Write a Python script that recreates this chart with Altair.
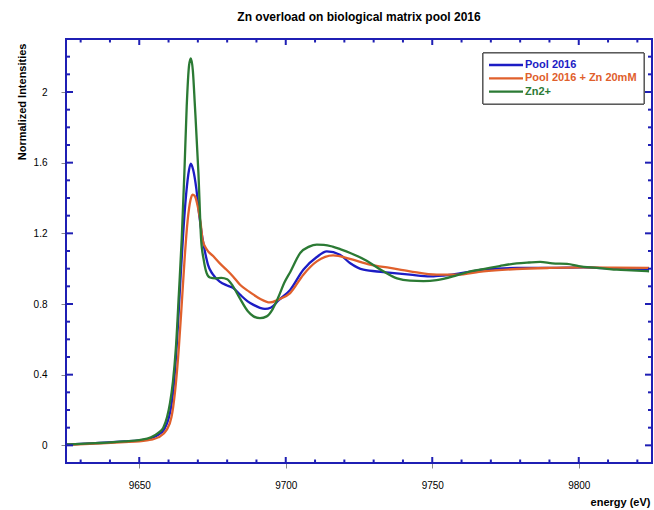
import altair as alt
import pandas as pd

# ---------------- data ----------------
series_names = ["Pool 2016", "Pool 2016 + Zn 20mM", "Zn2+"]
series_colors = ["#1c1cc4", "#e0602c", "#2b7a34"]

pool_e = [9625, 9635, 9645, 9650, 9654, 9656.5, 9658.5, 9660, 9661, 9662, 9663, 9664, 9665, 9666,
          9667, 9667.6, 9668.4, 9669.5, 9670.5, 9671.5, 9672.5, 9673.5, 9675, 9677.6, 9680, 9682.1,
          9684.4, 9687, 9689, 9691.2, 9692.9, 9695, 9697.5, 9701.5, 9706, 9710.6, 9714, 9718.5,
          9721.9, 9726.5, 9733.3, 9742.4, 9749.2, 9756.7, 9767.4, 9778.8, 9790, 9801.5, 9812, 9824]
pool_v = [0.005, 0.012, 0.022, 0.028, 0.04, 0.06, 0.09, 0.15, 0.23, 0.38, 0.62, 0.92, 1.2, 1.42,
          1.56, 1.594, 1.56, 1.45, 1.3, 1.18, 1.09, 1.02, 0.97, 0.925, 0.905, 0.89,
          0.853, 0.815, 0.795, 0.778, 0.772, 0.78, 0.82, 0.88, 0.994, 1.066, 1.098, 1.079,
          1.032, 0.994, 0.981, 0.966, 0.956, 0.966, 0.994, 1.004, 1.004, 1.007, 1.0, 0.994]

zn_e = [9625, 9635, 9645, 9650, 9654, 9656.5, 9659.4, 9661, 9661.6, 9662.5, 9663.5, 9664.5, 9665.5,
        9666.5, 9667.5, 9668.2, 9669, 9670, 9671, 9671.6, 9673, 9675.3, 9677.5, 9679.8, 9682,
        9684.4, 9687.5, 9689, 9691.2, 9694.6, 9697.5, 9701.5, 9706, 9710.6, 9716.2, 9721.9,
        9728.7, 9735.6, 9742.4, 9751.5, 9758.3, 9767.4, 9778.8, 9790, 9801.5, 9812, 9824]
zn_v = [0.003, 0.01, 0.018, 0.023, 0.032, 0.045, 0.089, 0.16, 0.22, 0.35, 0.55, 0.8, 1.06,
        1.27, 1.39, 1.419, 1.41, 1.35, 1.25, 1.164, 1.11, 1.07, 1.03, 0.994, 0.956,
        0.909, 0.87, 0.853, 0.83, 0.809, 0.825, 0.862, 0.966, 1.041, 1.075, 1.055,
        1.023, 1.004, 0.985, 0.966, 0.966, 0.985, 0.998, 1.004, 1.007, 1.006, 1.004]

zn2_e = [9625, 9635, 9645, 9650, 9654, 9656.5, 9658.2, 9659.5, 9660.5, 9661.5, 9662.5, 9663.5,
         9664.5, 9665.4, 9666.2, 9667, 9667.6, 9668.3, 9669, 9670.2, 9671.1, 9672, 9673, 9674.1,
         9676, 9678, 9680, 9682, 9684.4, 9687, 9689, 9691.2, 9693.5, 9695.5, 9697.5, 9699.5,
         9701.5, 9705, 9708, 9710.6, 9713, 9716, 9719, 9722, 9727.6, 9733.3, 9738, 9742.4, 9747,
         9751.5, 9758.3, 9763, 9767.4, 9773, 9778.8, 9783, 9786.8, 9791, 9796, 9800, 9804, 9809,
         9813, 9818, 9824]
zn2_v = [0.005, 0.012, 0.022, 0.03, 0.045, 0.07, 0.1, 0.16, 0.24, 0.36, 0.55, 0.85,
         1.17, 1.54, 1.92, 2.15, 2.19, 2.12, 1.92, 1.54, 1.17, 1.05, 0.975, 0.95,
         0.945, 0.948, 0.94, 0.9, 0.83, 0.76, 0.73, 0.72, 0.73, 0.77, 0.84, 0.92,
         0.98, 1.09, 1.125, 1.136, 1.135, 1.125, 1.108, 1.089, 1.045, 0.985, 0.945, 0.932, 0.93,
         0.935, 0.962, 0.985, 0.998, 1.015, 1.03, 1.035, 1.038, 1.03, 1.027, 1.015, 1.007, 1.0,
         0.994, 0.99, 0.985]

x_major = [9650, 9700, 9750, 9800]
x_minor = [9630, 9640, 9660, 9670, 9680, 9690, 9710, 9720, 9730, 9740,
           9760, 9770, 9780, 9790, 9810, 9820]
y_major = [0, 0.4, 0.8, 1.2, 1.6, 2.0]
y_minor = [0.1, 0.2, 0.3, 0.5, 0.6, 0.7, 0.9, 1.0, 1.1, 1.3, 1.4, 1.5,
           1.7, 1.8, 1.9, 2.1, 2.2]

# ---------------- tables ----------------
frames = []
for name, e, v in zip(series_names, [pool_e, zn_e, zn2_e], [pool_v, zn_v, zn2_v]):
    frames.append(pd.DataFrame({"energy": e, "value": v, "series": name}))
lines_df = pd.concat(frames, ignore_index=True)

legend_df = pd.DataFrame({"series": series_names, "idx": list(range(len(series_names)))})

W, H = 586, 424
FRAME = "#1f1fb4"
FONT = "Liberation Sans"

x_scale = alt.Scale(domain=[9625, 9825], nice=False, zero=False)
y_scale = alt.Scale(domain=[-0.1, 2.3], nice=False, zero=False)
color_scale = alt.Scale(domain=series_names, range=series_colors)

x_axis = alt.Axis(values=x_major, format="d", title="energy (eV)", grid=False,
                  titleX=584, titleY=42, titleAlign="right", titleBaseline="alphabetic",
                  labelPadding=12, labelBaseline="top")
y_axis = alt.Axis(values=y_major, format="~g", title="Normalized Intensities", grid=False,
                  titleX=-44, titleY=4, titleAngle=270, titleAlign="right",
                  titleBaseline="middle", labelPadding=14)

lines = alt.Chart(lines_df).mark_line(strokeWidth=2.3, interpolate="monotone", clip=True).encode(
    x=alt.X("energy:Q", scale=x_scale, axis=x_axis),
    y=alt.Y("value:Q", scale=y_scale, axis=y_axis),
    color=alt.Color("series:N", scale=color_scale, legend=None),
    detail="series:N",
    order=alt.Order("energy:Q"),
)

def xticks(vals, length):
    d = pd.DataFrame({"energy": vals})
    base = alt.Chart(d).mark_rule(color=FRAME, strokeWidth=2)
    bottom = base.encode(x=alt.X("energy:Q", scale=x_scale, axis=x_axis),
                         y=alt.value(H), y2=alt.value(H - length))
    top = base.encode(x=alt.X("energy:Q", scale=x_scale, axis=x_axis),
                      y=alt.value(0), y2=alt.value(length))
    return [bottom, top]

def yticks(vals, length):
    d = pd.DataFrame({"value": vals})
    base = alt.Chart(d).mark_rule(color=FRAME, strokeWidth=2)
    left = base.encode(y=alt.Y("value:Q", scale=y_scale, axis=y_axis),
                       x=alt.value(0), x2=alt.value(length))
    right = base.encode(y=alt.Y("value:Q", scale=y_scale, axis=y_axis),
                        x=alt.value(W), x2=alt.value(W - length))
    return [left, right]

ticks = xticks(x_major, 6) + xticks(x_minor, 3.5) + yticks(y_major, 7) + yticks(y_minor, 4)

frame = alt.Chart(legend_df).mark_rect(fill=None, stroke=FRAME, strokeWidth=2).encode(
    x=alt.value(0), x2=alt.value(W), y=alt.value(0), y2=alt.value(H))

# manual legend
box = alt.Chart(legend_df).mark_rect(fill="white", stroke="#444444", strokeWidth=1).encode(
    x=alt.value(417), x2=alt.value(578), y=alt.value(14), y2=alt.value(65))
leg_base = alt.Chart(legend_df).transform_calculate(ly="26 + datum.idx * 13.3")
leg_lines = leg_base.mark_rule(strokeWidth=2.3).encode(
    x=alt.value(423), x2=alt.value(457), y=alt.Y("ly:Q", scale=None),
    color=alt.Color("series:N", scale=color_scale, legend=None))
leg_text = leg_base.mark_text(align="left", baseline="middle", fontWeight="bold",
                              fontSize=11, font=FONT).encode(
    x=alt.value(459), y=alt.Y("ly:Q", scale=None), text="series:N",
    color=alt.Color("series:N", scale=color_scale, legend=None))

chart = alt.layer(lines, *ticks, frame, box, leg_lines, leg_text).properties(
    width=W, height=H,
    title=alt.TitleParams("Zn overload on biological matrix pool 2016", fontSize=12,
                          fontWeight="bold", font=FONT, color="black", anchor="middle",
                          frame="group", offset=14),
    autosize=alt.AutoSizeParams(type="none"),
    padding={"left": 66, "top": 39, "right": 2, "bottom": 47},
).configure_view(
    stroke=None
).configure_axis(
    grid=False, domain=False, ticks=False,
    labelFont=FONT, labelFontSize=12, labelFontWeight="bold", labelColor="black",
    titleFont=FONT, titleFontSize=12, titleFontWeight="bold", titleColor="black",
).configure(background="white")

chart.save("out.html", embed_options={"renderer": "svg", "actions": False})
